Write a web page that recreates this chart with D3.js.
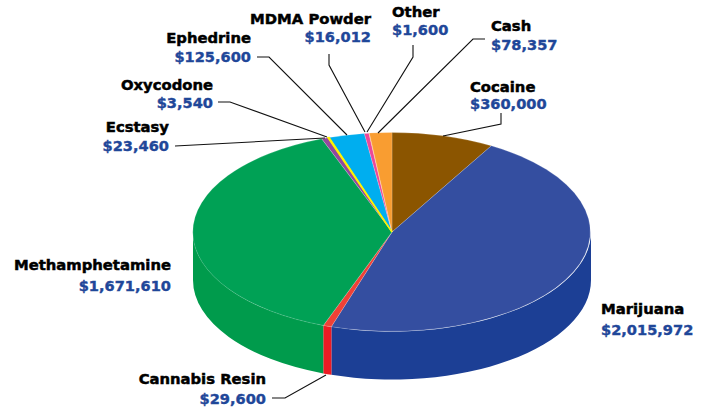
<!DOCTYPE html>
<html><head><meta charset="utf-8">
<script src="https://cdn.jsdelivr.net/npm/d3@7"></script>
<style>html,body{margin:0;background:#fff}svg{display:block}text{font-family:"DejaVu Sans",sans-serif;font-weight:700}</style>
</head><body><svg id="c" width="709" height="408"></svg>
<script>
const categories=["Cocaine","Marijuana","Cannabis Resin","Methamphetamine","Ecstasy","Oxycodone","Ephedrine","MDMA Powder","Other","Cash"];
const values=[360000,2015972,29600,1671610,23460,3540,125600,16012,1600,78357];
const topColors=["#8B5500","#344EA0","#EF4136","#00A155","#92499E","#FFF200","#00AEEF","#EC4899","#F99D31","#F99D31"];
const sideColors=["#7A4A00","#1C3F95","#ED1C24","#009B4C","#7F3F8C","#DDD200","#0098D0","#CF3F86","#DA8A2A","#DA8A2A"];
const labelLayout=[
 {a:"start",x:470,y1:92,y2:108.5,line:[[501,113],[501,124],[443,136]]},
 {a:"start",x:601,y1:314,y2:335,line:null},
 {a:"end",x:266,y1:384,y2:404,line:[[272,398],[285,398],[326,375]]},
 {a:"end",x:171,y1:270,y2:291,line:null},
 {a:"end",x:169,y1:132,y2:151,line:[[175,146],[325,138]]},
 {a:"end",x:213,y1:90,y2:108,line:[[218,102],[230,102],[327,137]]},
 {a:"end",x:251,y1:43,y2:62,line:[[257,57],[269,57],[347,135]]},
 {a:"end",x:371,y1:24,y2:42,line:[[329,54],[329,65],[365,132]]},
 {a:"start",x:392,y1:17,y2:35,line:[[413,45],[413,57],[367,132]]},
 {a:"start",x:491,y1:31,y2:50,line:[[485,39],[473,39],[378,133]]}
];
const fmt=d3.format("$,");
const cx=392,cy=232,rx=199,ry=99.5,depth=48;
const svg=d3.select("#c");
const pie=d3.pie().sort(null).value(d=>d)(values);
const px=a=>cx+rx*Math.sin(a), py=a=>cy-ry*Math.cos(a);
const wall=(a0,a1)=>{a0=Math.max(a0,Math.PI/2);a1=Math.min(a1,3*Math.PI/2);
 if(a1<=a0)return null;
 return `M${px(a0)},${py(a0)}A${rx},${ry} 0 0 1 ${px(a1)},${py(a1)}L${px(a1)},${py(a1)+depth}A${rx},${ry} 0 0 0 ${px(a0)},${py(a0)+depth}Z`;};
svg.append("g").selectAll("path").data(pie.filter(d=>wall(d.startAngle,d.endAngle))).join("path")
 .attr("d",d=>wall(d.startAngle,d.endAngle)).attr("fill",d=>sideColors[d.index]);
const arc=d3.arc().innerRadius(0).outerRadius(1);
const topG=svg.append("g").attr("transform",`translate(${cx},${cy}) scale(${rx},${ry})`);
topG.selectAll("path").data(pie).join("path")
 .attr("d",arc).attr("fill",d=>topColors[d.index])
 .attr("stroke","#fff").attr("stroke-opacity",.22).attr("stroke-width",.8).attr("vector-effect","non-scaling-stroke");
// hairline slices need their own-colour outline to stay visible
topG.append("g").selectAll("path").data(pie.filter(d=>d.endAngle-d.startAngle<0.01&&categories[d.index]==="Oxycodone")).join("path")
 .attr("d",arc).attr("fill",d=>topColors[d.index]).attr("stroke",d=>topColors[d.index])
 .attr("stroke-width",1.6).attr("vector-effect","non-scaling-stroke");
svg.append("g").selectAll("polyline").data(labelLayout.filter(d=>d.line)).join("polyline")
 .attr("points",d=>d.line.join(" ")).attr("fill","none").attr("stroke","#111").attr("stroke-width",1.1);
const g=svg.append("g").selectAll("g").data(categories).join("g");
g.append("text").attr("x",(d,i)=>labelLayout[i].x).attr("y",(d,i)=>labelLayout[i].y1).attr("text-anchor",(d,i)=>labelLayout[i].a)
 .attr("font-size",14.8).attr("fill","#000").attr("stroke","#000").attr("stroke-width",.5).text(d=>d);
g.append("text").attr("x",(d,i)=>labelLayout[i].x).attr("y",(d,i)=>labelLayout[i].y2).attr("text-anchor",(d,i)=>labelLayout[i].a)
 .attr("font-size",14.6).attr("fill","#1F4799").attr("stroke","#1F4799").attr("stroke-width",.4).text((d,i)=>fmt(values[i]));
</script></body></html>
